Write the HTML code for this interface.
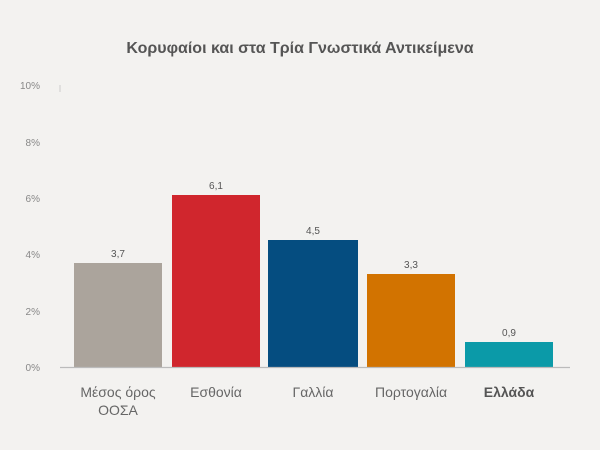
<!DOCTYPE html>
<html><head><meta charset="utf-8"><style>
body{margin:0;background:#f3f2f0;}
svg{display:block;font-family:"Liberation Sans","DejaVu Sans",sans-serif;}
</style></head><body>
<svg width="600" height="450" viewBox="0 0 600 450">
<rect width="600" height="450" fill="#f3f2f0"/>
<text x="300" y="53" text-anchor="middle" font-size="16" font-weight="bold" fill="#555">Κορυφαίοι και στα Τρία Γνωστικά Αντικείμενα</text>
<g font-size="10" fill="#888" text-anchor="end">
<text x="40" y="89">10%</text><text x="40" y="146">8%</text><text x="40" y="202">6%</text>
<text x="40" y="258">4%</text><text x="40" y="315">2%</text><text x="40" y="371">0%</text>
</g>
<line x1="60" y1="85" x2="60" y2="92" stroke="#ccc" stroke-width="1"/>
<rect x="74" y="263" width="88" height="104" fill="#aba49c"/>
<rect x="172" y="195" width="88" height="172" fill="#d0262d"/>
<rect x="268" y="240" width="90" height="127" fill="#054d80"/>
<rect x="367" y="274" width="88" height="93" fill="#d27300"/>
<rect x="465" y="342" width="88" height="25" fill="#0b9aa8"/>
<line x1="60" y1="367.5" x2="570" y2="367.5" stroke="#bbb" stroke-width="1.2"/>
<g font-size="10" fill="#555" text-anchor="middle">
<text x="118" y="257">3,7</text><text x="216" y="189">6,1</text><text x="313" y="234">4,5</text>
<text x="411" y="268">3,3</text><text x="509" y="336">0,9</text>
</g>
<g font-size="14" fill="#666" text-anchor="middle">
<text x="118" y="397">Μέσος όρος</text><text x="118" y="415">ΟΟΣΑ</text>
<text x="216" y="397">Εσθονία</text><text x="313" y="397">Γαλλία</text>
<text x="411" y="397">Πορτογαλία</text>
<text x="509" y="397" font-weight="bold" fill="#555">Ελλάδα</text>
</g>
</svg>
</body></html>
